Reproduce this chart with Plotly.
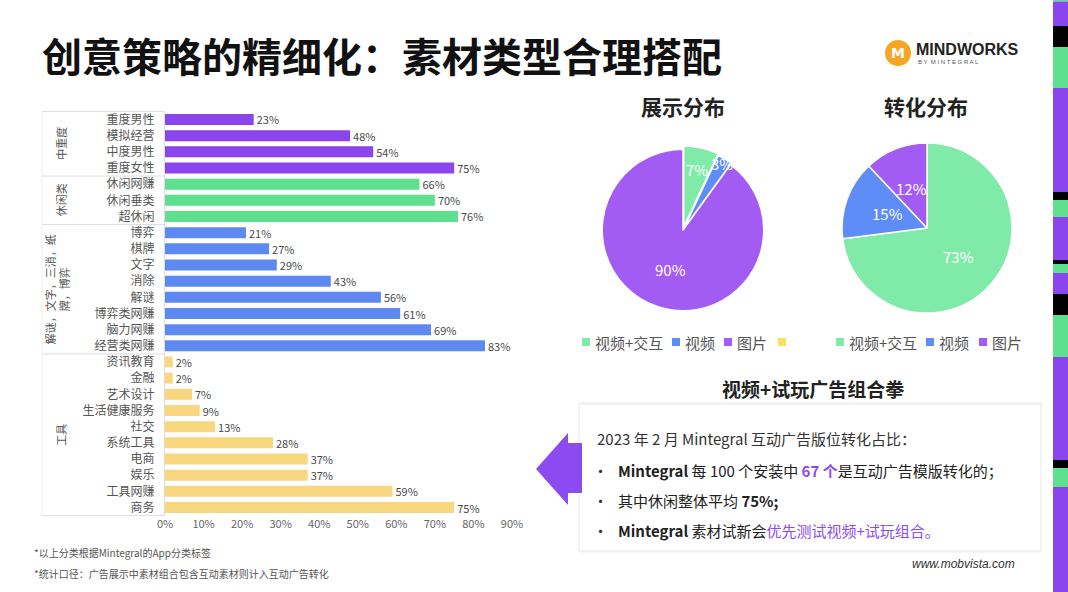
import math
import plotly.graph_objects as go

W, H = 1068, 592

# ---------------- data ----------------
g1_labels = ["重度男性", "模拟经营", "中度男性", "重度女性"]
g1_values = [23, 48, 54, 75]
g2_labels = ["休闲网赚", "休闲垂类", "超休闲"]
g2_values = [66, 70, 76]
g3_labels = ["博弈", "棋牌", "文字", "消除", "解谜", "博弈类网赚", "脑力网赚", "经营类网赚"]
g3_values = [21, 27, 29, 43, 56, 61, 69, 83]
g4_labels = ["资讯教育", "金融", "艺术设计", "生活健康服务", "社交", "系统工具", "电商", "娱乐", "工具网赚", "商务"]
g4_values = [2, 2, 7, 9, 13, 28, 37, 37, 59, 75]
group_names = ["中重度", "休闲类", "解谜，文字，三消，纸<br>牌，博弈", "工具"]

x_tick_values = [0, 10, 20, 30, 40, 50, 60, 70, 80, 90]
x_tick_labels = ["0%", "10%", "20%", "30%", "40%", "50%", "60%", "70%", "80%", "90%"]

pie_labels = ["视频+交互", "视频", "图片"]
show_values = [7, 3, 90]
conv_values = [73, 15, 12]

# ---------------- style ----------------
FONT = "Noto Sans CJK SC"
bar_colors = ["#8A45EF", "#5FE08F", "#5D8AF1", "#F8D77F"]
pie_colors = ["#80EBA8", "#5F8DF8", "#A35CF3"]
PURPLE = "#8B4BF0"


def px(x):
    return x / W


def py(y):
    return 1 - y / H


groups_l = [g1_labels, g2_labels, g3_labels, g4_labels]
groups_v = [g1_values, g2_values, g3_values, g4_values]
all_labels = [l for g in groups_l for l in g]

fig = go.Figure()

for labels, values, col in zip(groups_l, groups_v, bar_colors):
    fig.add_trace(go.Bar(
        y=labels, x=values, orientation="h",
        marker=dict(color=col, line=dict(width=0)),
        text=[f"{v}%" for v in values], textposition="outside", constraintext="none",
        textfont=dict(family=FONT, size=11, color="#4a4a4a"),
        cliponaxis=False, showlegend=False, hoverinfo="skip",
    ))

# pies: (values, centre x, centre y, radius, pulls, label radius fractions)
pies = [
    (show_values, 683, 230, 84, [0.04, 0.02, 0], [0.74, 0.92, 0.5]),
    (conv_values, 927, 228, 85, [0, 0, 0], [0.5, 0.5, 0.5]),
]

annotations = []
shapes = []


def note(text, x, y, size, color="#333", xanchor="center", family=FONT, angle=0, yref="paper", **kw):
    annotations.append(dict(text=text, xref="paper", yref=yref, x=x, y=y, xanchor=xanchor,
                            yanchor="middle", showarrow=False, textangle=angle,
                            font=dict(family=family, size=size, color=color, **kw)))


for vals, cx, cy, r, pulls, lr in pies:
    fig.add_trace(go.Pie(
        labels=pie_labels, values=vals, sort=False, direction="clockwise", rotation=0,
        marker=dict(colors=pie_colors, line=dict(color="white", width=1.5)),
        pull=pulls, automargin=False, textinfo="none",
        domain=dict(x=[px(cx - r), px(cx + r)], y=[py(cy + r), py(cy - r)]),
        showlegend=False, hoverinfo="skip",
    ))
    total = sum(vals)
    cum = 0
    for v, f in zip(vals, lr):
        mid = (cum + v / 2) / total * 2 * math.pi
        cum += v
        lx = cx + r * f * math.sin(mid)
        ly = cy - r * f * math.cos(mid)
        note(f"{v}%", px(lx), py(ly), 15, "white")

n = len(all_labels)
top_y, bot_y = 110.9, 516.1

fig.update_layout(
    template="none",
    width=W, height=H, autosize=False,
    margin=dict(l=0, r=0, t=0, b=0, pad=0, autoexpand=False),
    paper_bgcolor="white", plot_bgcolor="rgba(0,0,0,0)",
    barmode="overlay", bargap=0.32, showlegend=False,
    font=dict(family=FONT, color="#444"),
    xaxis=dict(
        domain=[px(165), px(512)], range=[0, 90],
        tickvals=x_tick_values, ticktext=x_tick_labels,
        tickfont=dict(family=FONT, size=11, color="#666"),
        showgrid=False, zeroline=False, showline=False, ticks="",
        anchor="y", automargin=False,
    ),
    yaxis=dict(
        domain=[py(bot_y), py(top_y)],
        categoryorder="array", categoryarray=all_labels,
        autorange="reversed",
        tickfont=dict(family=FONT, size=12, color="#555"),
        showgrid=False, zeroline=False, showline=True, linecolor="#DDDDDD", linewidth=1,
        ticks="", ticklabelstandoff=7, automargin=False,
    ),
)

# table frame lines (tied to category positions)
bounds = [-0.5]
acc = 0
for g in groups_l:
    acc += len(g)
    bounds.append(acc - 0.5)
for b in bounds:
    shapes.append(dict(type="line", xref="paper", yref="y", x0=px(42), x1=px(165), y0=b, y1=b,
                       line=dict(color="#DDDDDD", width=1)))
shapes.append(dict(type="line", xref="paper", yref="y", x0=px(42), x1=px(42), y0=-0.5, y1=n - 0.5,
                   line=dict(color="#EEEEEE", width=1)))

# group labels
start = 0
for name, g in zip(group_names, groups_l):
    center = start + (len(g) - 1) / 2
    note(name, px(57 if "<br>" in name else 61), center, 11, "#555", angle=-90, yref="y")
    start += len(g)

# title
note("<b>创意策略的精细化：素材类型合理搭配</b>", px(40), py(55), 40, "#111", xanchor="left", weight=900)

# logo
shapes.append(dict(type="circle", xref="paper", yref="paper", x0=px(885), x1=px(911), y0=py(66), y1=py(40),
                   fillcolor="#F6A623", line=dict(width=0)))
note("<b>M</b>", px(898), py(53), 14, "white", family="DejaVu Sans")
note("<b>MINDWORKS</b>", px(914), py(49), 16, "#222", xanchor="left", family="Liberation Sans")
note("B Y  M I N T E G R A L", px(916), py(62), 6, "#555", xanchor="left", family="Liberation Sans")

# right stripe
stripe = [(0, 1.5, "#5FE08F"), (1.5, 26, "#8A45EF"), (26, 47, "#000000"), (47, 88, "#5FE08F"),
          (88, 192, "#8A45EF"), (192, 200, "#000000"), (200, 217, "#5FE08F"), (217, 260, "#8A45EF"),
          (260, 264, "#000000"), (264, 273, "#5FE08F"), (273, 294, "#8A45EF"), (294, 315, "#000000"),
          (315, 357, "#5FE08F"), (357, 460, "#8A45EF"), (460, 468, "#000000"), (468, 487, "#5FE08F"),
          (487, 592, "#8A45EF")]
for a, b, c in stripe:
    shapes.append(dict(type="rect", xref="paper", yref="paper", x0=px(1053), x1=1, y0=py(b), y1=py(a),
                       fillcolor=c, line=dict(width=0), layer="above"))

# pie titles
for t, x in [("展示分布", 683), ("转化分布", 926)]:
    note(f"<b>{t}</b>", px(x), py(106), 21, "#222")

# legends
leg1 = [(586, pie_colors[0], "视频+交互"), (676, pie_colors[1], "视频"), (728, pie_colors[2], "图片"),
        (782, "#F8E45C", "")]
leg2 = [(840, pie_colors[0], "视频+交互"), (930, pie_colors[1], "视频"), (983, pie_colors[2], "图片")]
for x, c, t in leg1 + leg2:
    shapes.append(dict(type="rect", xref="paper", yref="paper", x0=px(x - 4), x1=px(x + 4),
                       y0=py(346), y1=py(338), fillcolor=c, line=dict(width=0)))
    if t:
        note(t, px(x + 7), py(342), 15, "#555", xanchor="left")

# sub-heading
note("<b>视频+试玩广告组合拳</b>", px(813), py(388), 19, "#222")

# card with soft shadow
for i, a in enumerate([0.012, 0.018, 0.025]):
    d = 3 - i
    shapes.append(dict(type="rect", xref="paper", yref="paper", x0=px(580 - d), x1=px(1040 + d),
                       y0=py(551 + d), y1=py(404 - d), fillcolor=f"rgba(0,0,0,{a})", line=dict(width=0),
                       layer="below"))
shapes.append(dict(type="rect", xref="paper", yref="paper", x0=px(580), x1=px(1040),
                   y0=py(550), y1=py(405), fillcolor="white", line=dict(width=0), layer="below"))

# arrow
path = (f"M {px(536)},{py(469)} L {px(568)},{py(433)} L {px(568)},{py(443)} L {px(582)},{py(443)} "
        f"L {px(582)},{py(493)} L {px(568)},{py(493)} L {px(568)},{py(505)} Z")
shapes.append(dict(type="path", xref="paper", yref="paper", path=path, fillcolor=PURPLE, line=dict(width=0)))

# card text
note("2023 年 2 月 Mintegral 互动广告版位转化占比：", px(595), py(438), 15, "#333", xanchor="left")
lines = [
    (470, f"<b>Mintegral</b> 每 100 个安装中 <span style='color:{PURPLE}'><b>67 个</b></span>是互动广告模版转化的；"),
    (500, "其中休闲整体平均 <b>75%;</b>"),
    (530, f"<b>Mintegral</b> 素材试新会<span style='color:{PURPLE}'>优先测试视频+试玩组合。</span>"),
]
for y, t in lines:
    note("•", px(600), py(y), 15, "#333")
    note(t, px(616), py(y), 15, "#222", xanchor="left")

# footer
note("*以上分类根据Mintegral的App分类标签", px(32), py(552), 10, "#555", xanchor="left")
note("*统计口径：广告展示中素材组合包含互动素材则计入互动广告转化", px(32), py(573), 10, "#555", xanchor="left")
note("<i>www.mobvista.com</i>", px(1017), py(564), 12, "#333", xanchor="right", family="Liberation Sans")

fig.update_layout(shapes=shapes, annotations=annotations)

fig.write_html(
    "out.html",
    config={"displayModeBar": False},
    post_script="document.body.style.margin='0';document.body.style.overflow='hidden';",
)
